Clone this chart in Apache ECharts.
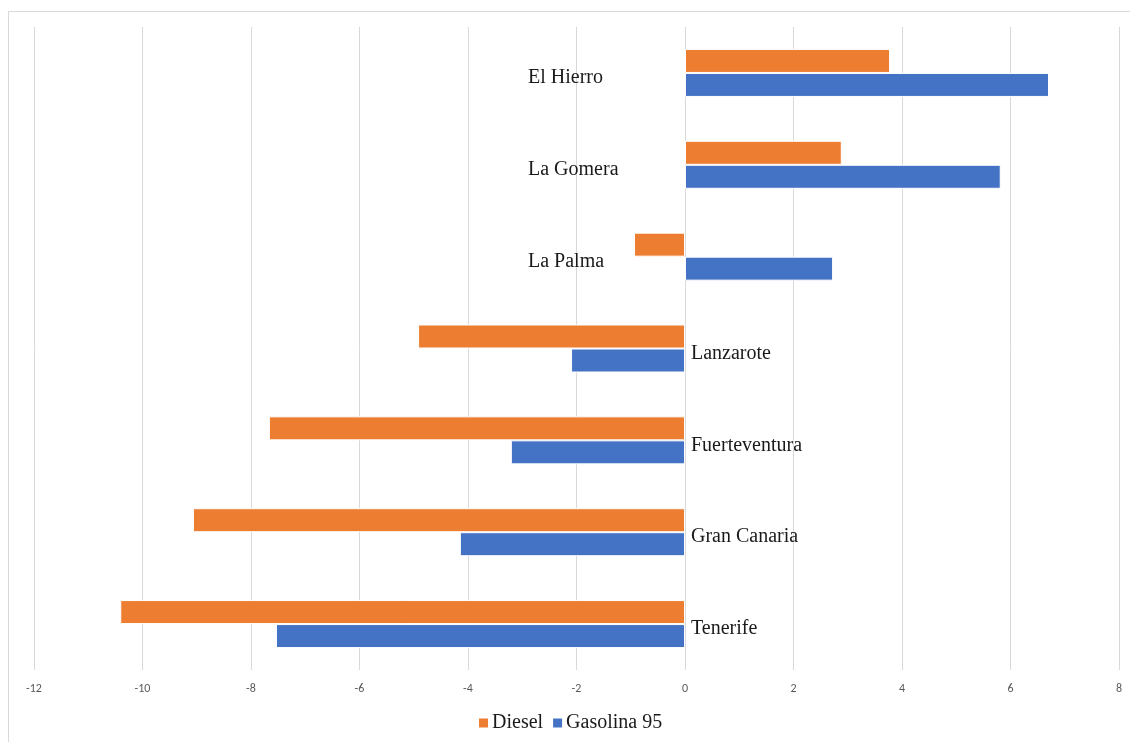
<!DOCTYPE html>
<html>
<head>
<meta charset="utf-8">
<script src="https://cdn.jsdelivr.net/npm/echarts@6/dist/echarts.min.js"></script>
<style>
  html, body { margin: 0; padding: 0; background: #fff; }
  #chart { width: 1130px; height: 742px; }
  #frame { position: absolute; left: 8px; top: 11px; width: 1140px; height: 760px; border: 1px solid #d9d9d9; pointer-events: none; }
</style>
</head>
<body>
<div id="chart"></div>
<div id="frame"></div>
<script>
// islas, de abajo arriba
const islas = ['Tenerife', 'Gran Canaria', 'Fuerteventura', 'Lanzarote', 'La Palma', 'La Gomera', 'El Hierro'];
const diesel = [-10.41, -9.07, -7.67, -4.92, -0.94, 2.89, 3.78];
const gasolina95 = [-7.54, -4.15, -3.21, -2.10, 2.73, 5.82, 6.71];
const xTicks = [-12, 8, 2]; // min, max, interval

const myChart = echarts.init(document.getElementById('chart'));

const serif = '"Liberation Serif", "DejaVu Serif", serif';
const labelStyle = {
  color: '#1a1a1a',
  fontFamily: serif,
  fontSize: 20,
  align: 'left',
  verticalAlign: 'top',
  lineHeight: 10,
};

let option = {
  animation: false,
  grid: {
    left: 34,
    right: 11,
    top: 27,
    bottom: 72,
  },
  legend: {
    data: ['Diesel', 'Gasolina 95'],
    left: 472,
    top: 708,
    itemWidth: 11,
    itemHeight: 11,
    itemGap: 8,
    icon: 'rect',
    textStyle: {
      fontFamily: serif,
      fontSize: 20,
      color: '#1a1a1a',
      padding: [0, 0, 0, -2],
    },
  },
  xAxis: {
    type: 'value',
    min: xTicks[0],
    max: xTicks[1],
    interval: xTicks[2],
    axisLine: { show: false },
    axisTick: { show: false },
    axisLabel: {
      color: '#595959',
      fontSize: 12,
      fontFamily: 'Carlito, "Open Sans", sans-serif',
      margin: 13,
    },
    splitLine: {
      lineStyle: { color: '#d9d9d9', width: 1 },
    },
  },
  yAxis: [
    {
      // nombres a la izquierda del cero
      type: 'category',
      data: islas,
      position: 'left',
      axisLine: { show: false },
      axisTick: { show: false },
      axisLabel: Object.assign({}, labelStyle, {
        margin: -(528 - 34),
        formatter: (v, i) => (gasolina95[i] > 0 ? v : ''),
      }),
    },
    {
      // nombres a la derecha del cero
      type: 'category',
      data: islas,
      position: 'left',
      axisLine: { show: false },
      axisTick: { show: false },
      axisLabel: Object.assign({}, labelStyle, {
        margin: -(691 - 34),
        formatter: (v, i) => (gasolina95[i] > 0 ? '' : v),
      }),
    },
  ],
  series: [
    {
      name: 'Diesel',
      type: 'bar',
      data: diesel,
      barWidth: 24,
      barGap: '0%',
      itemStyle: { color: '#ed7d31', borderColor: '#ffffff', borderWidth: 1 },
    },
    {
      name: 'Gasolina 95',
      type: 'bar',
      data: gasolina95,
      barWidth: 24,
      barGap: '0%',
      itemStyle: { color: '#4472c4', borderColor: '#ffffff', borderWidth: 1 },
    },
  ],
};

myChart.setOption(option);
</script>
</body>
</html>
